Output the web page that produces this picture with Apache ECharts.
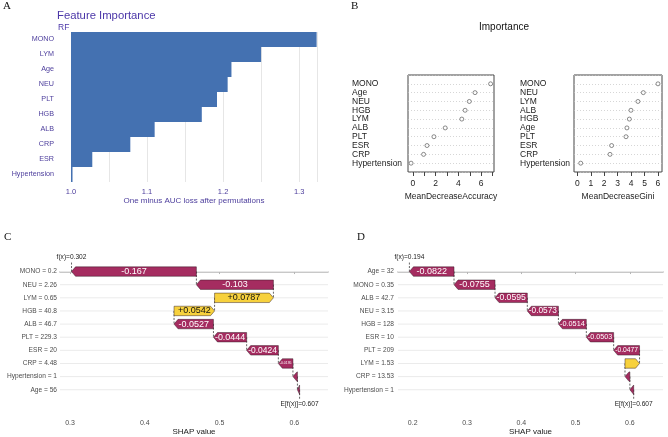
<!DOCTYPE html>
<html>
<head>
<meta charset="utf-8">
<script src="https://cdn.jsdelivr.net/npm/echarts@6/dist/echarts.min.js"></script>
<style>
  html, body { margin: 0; padding: 0; background: #fff; }
  #main { width: 668px; height: 437px; }
</style>
</head>
<body>
<div id="main"></div>
<script>
// A: permutation importance (RF), one minus AUC loss
var rfFeatures = ['MONO', 'LYM', 'Age', 'NEU', 'PLT', 'HGB', 'ALB', 'CRP', 'ESR', 'Hypertension'];
var rfValues = [1.323, 1.250, 1.211, 1.206, 1.192, 1.172, 1.110, 1.078, 1.028, 1.002];

// B: randomForest importance
var accFeatures = ['MONO', 'Age', 'NEU', 'HGB', 'LYM', 'ALB', 'PLT', 'ESR', 'CRP', 'Hypertension'];
var accValues = [6.83, 5.46, 4.96, 4.59, 4.30, 2.84, 1.85, 1.24, 0.94, -0.16];
var giniFeatures = ['MONO', 'NEU', 'LYM', 'ALB', 'HGB', 'Age', 'PLT', 'ESR', 'CRP', 'Hypertension'];
var giniValues = [6.00, 4.91, 4.51, 3.99, 3.87, 3.69, 3.62, 2.55, 2.43, 0.25];
var accTicks = [0, 1, 2, 3, 4, 5, 6, 7];
var accLabels = [0, 2, 4, 6];
var giniTicks = [0, 1, 2, 3, 4, 5, 6];

// C, D: SHAP waterfall (top row first)
var baseValue = 0.607;
var cFeatures = ['MONO = 0.2', 'NEU = 2.26', 'LYM = 0.65', 'HGB = 40.8', 'ALB = 46.7',
  'PLT = 229.3', 'ESR = 20', 'CRP = 4.48', 'Hypertension = 1', 'Age = 56'];
var cShap = [-0.167, -0.103, 0.0787, 0.0542, -0.0527, -0.0444, -0.0424, -0.0195, -0.006, -0.0029];
var cTicks = [0.3, 0.4, 0.5, 0.6];
var dFeatures = ['Age = 32', 'MONO = 0.35', 'ALB = 42.7', 'NEU = 3.15', 'HGB = 128',
  'ESR = 10', 'PLT = 209', 'LYM = 1.53', 'CRP = 13.53', 'Hypertension = 1'];
var dShap = [-0.0822, -0.0755, -0.0595, -0.0573, -0.0514, -0.0503, -0.0477, 0.0268, -0.009, -0.007];
var dTicks = [0.2, 0.3, 0.4, 0.5, 0.6];

var FONT = 'Liberation Sans, Arial, sans-serif';
var POS = '#f7d13d', NEG = '#a52c60';

// 累加得到每一行的起止位置（从底部 E[f(x)] 开始往上）
function waterfallRows(shap, base) {
  var rows = [];
  var cur = base;
  for (var i = shap.length - 1; i >= 0; i--) {
    rows[i] = [i, cur, cur + shap[i], shap[i]];
    cur = cur + shap[i];
  }
  return { rows: rows, fx: cur };
}
var cW = waterfallRows(cShap, baseValue);
var dW = waterfallRows(dShap, baseValue);

function emWidth(s) {
  var w = 0;
  for (var k = 0; k < s.length; k++) {
    var ch = s[k];
    if (ch === '.') w += 0.278;
    else if (ch === '-') w += 0.333;
    else if (ch === '+') w += 0.584;
    else w += 0.556;
  }
  return w;
}

function makeWaterfallRender(n, fx) {
  return function (params, api) {
    var row = api.value(0), s = api.value(1), e = api.value(2), v = api.value(3);
    var p0 = api.coord([s, row]);
    var p1 = api.coord([e, row]);
    var band = Math.abs(api.coord([s, row + 1])[1] - p0[1]);
    var h = band * 0.72;
    var y = p0[1];
    var dir = p1[0] >= p0[0] ? 1 : -1;
    var len = Math.abs(p1[0] - p0[0]);
    var head = Math.min(4, len);
    var neck = p1[0] - dir * head;
    var children = [];
    var dash = { stroke: '#222', lineWidth: 0.7, lineDash: [2, 1.5] };
    // 连接线
    if (row < n - 1) {
      var yn = api.coord([s, row + 1])[1];
      children.push({ type: 'line', z2: 0, shape: { x1: p0[0], y1: y, x2: p0[0], y2: yn }, style: dash });
    } else {
      var yb = api.coord([s, row + 0.78])[1];
      children.push({ type: 'line', z2: 0, shape: { x1: p0[0], y1: y, x2: p0[0], y2: yb }, style: dash });
      var yt = api.coord([s, row + 1.08])[1];
      children.push({ type: 'text', z2: 3, x: p0[0], y: yt, style: {
        text: 'E[f(x)]=' + baseValue.toFixed(3), fill: '#222', font: '6.6px ' + FONT,
        align: 'center', verticalAlign: 'middle', textAlign: 'center', textVerticalAlign: 'middle' } });
    }
    if (row === 0) {
      var ya = api.coord([e, row - 0.8])[1];
      children.push({ type: 'line', z2: 0, shape: { x1: p1[0], y1: y, x2: p1[0], y2: ya }, style: dash });
      var yl = api.coord([e, row - 1.09])[1];
      children.push({ type: 'text', z2: 3, x: p1[0], y: yl, style: {
        text: 'f(x)=' + fx.toFixed(3), fill: '#222', font: '6.6px ' + FONT,
        align: 'center', verticalAlign: 'middle', textAlign: 'center', textVerticalAlign: 'middle' } });
    }
    children.push({
      type: 'polygon', z2: 1,
      shape: { points: [[p0[0], y - h / 2], [neck, y - h / 2], [p1[0], y], [neck, y + h / 2], [p0[0], y + h / 2]] },
      style: { fill: v > 0 ? POS : NEG, stroke: 'rgba(40,20,30,0.75)', lineWidth: 0.6 }
    });
    var txt = (v > 0 ? '+' : '') + String(Number(v.toPrecision(3)));
    var fs = Math.min(9, (len - 3) / emWidth(txt), h);
    if (fs >= 3.3) {
      children.push({ type: 'text', z2: 2, x: (p0[0] + p1[0]) / 2, y: y, style: {
        text: txt, fill: v > 0 ? '#111' : '#fff', font: fs.toFixed(2) + 'px ' + FONT,
        align: 'center', verticalAlign: 'middle', textAlign: 'center', textVerticalAlign: 'middle' } });
    }
    return { type: 'group', children: children };
  };
}

function gridLineRender(params, api) {
  var cs = params.coordSys;
  var y = api.coord([0, api.value(0)])[1];
  return { type: 'line', shape: { x1: cs.x, y1: y, x2: cs.x + cs.width, y2: y },
    style: { stroke: '#ebebeb', lineWidth: 1 } };
}

var rowIdx = [0, 1, 2, 3, 4, 5, 6, 7, 8, 9];

var purple = '#4c3d9c';
var bAxisFont = { fontSize: 8.5, color: '#222', fontFamily: FONT };

var option = {
  animation: false,
  textStyle: { fontFamily: FONT },
  graphic: [
    { type: 'text', left: 3, top: 1, style: { text: 'A', font: '11px Liberation Serif, serif', fill: '#111' } },
    { type: 'text', left: 351, top: 1, style: { text: 'B', font: '11px Liberation Serif, serif', fill: '#111' } },
    { type: 'text', left: 4, top: 232, style: { text: 'C', font: '11px Liberation Serif, serif', fill: '#111' } },
    { type: 'text', left: 357, top: 232, style: { text: 'D', font: '11px Liberation Serif, serif', fill: '#111' } },
    { type: 'text', left: 57, top: 10, style: { text: 'Feature Importance', font: '11.3px ' + FONT, fill: '#4b36a8' } },
    { type: 'text', left: 58, top: 23, style: { text: 'RF', font: '8.5px ' + FONT, fill: '#4b36a8' } },
    { type: 'text', left: 479, top: 22, style: { text: 'Importance', font: '10px ' + FONT, fill: '#111' } }
  ],
  grid: [
    { left: 71, top: 32, width: 246, height: 150 },
    { left: 408, top: 75, width: 86, height: 97, show: true, borderColor: '#444', borderWidth: 1 },
    { left: 574, top: 75, width: 88, height: 97, show: true, borderColor: '#444', borderWidth: 1 },
    { left: 60, top: 245.3, width: 268, height: 171.6 },
    { left: 398, top: 245.3, width: 265, height: 171.6 }
  ],
  xAxis: [
    {
      gridIndex: 0, type: 'value', min: 1.0, max: 1.3235, interval: 0.05,
      axisLine: { show: false }, axisTick: { show: false },
      splitLine: { lineStyle: { color: '#e6e6e6', width: 1 } },
      axisLabel: {
        fontSize: 7.5, color: purple, margin: 6,
        formatter: function (v) { return Math.round(v * 100) % 10 === 0 ? v.toFixed(1) : ''; }
      },
      name: 'One minus AUC loss after permutations', nameLocation: 'middle', nameGap: 15,
      nameTextStyle: { fontSize: 8, color: purple }
    },
    {
      gridIndex: 1, type: 'value', min: -0.43, max: 7.13,
      axisLine: { show: false }, splitLine: { show: false },
      axisTick: { show: true, length: 4, customValues: accTicks, lineStyle: { color: '#444' } },
      axisLabel: Object.assign({ margin: 7, customValues: accLabels, formatter: function (v) { return String(v); } }, bAxisFont),
      name: 'MeanDecreaseAccuracy', nameLocation: 'middle', nameGap: 20, nameTextStyle: bAxisFont
    },
    {
      gridIndex: 2, type: 'value', min: -0.25, max: 6.3,
      axisLine: { show: false }, splitLine: { show: false },
      axisTick: { show: true, length: 4, customValues: giniTicks, lineStyle: { color: '#444' } },
      axisLabel: Object.assign({ margin: 7, customValues: giniTicks, formatter: function (v) { return String(v); } }, bAxisFont),
      name: 'MeanDecreaseGini', nameLocation: 'middle', nameGap: 20, nameTextStyle: bAxisFont
    },
    {
      gridIndex: 3, type: 'value', min: 0.2866, max: 0.645,
      axisLine: { lineStyle: { color: '#b5b5b5', width: 1.6 } },
      axisTick: { show: true, length: 2.5, customValues: cTicks, lineStyle: { color: '#b5b5b5' } },
      splitLine: { show: false },
      axisLabel: { fontSize: 7, color: '#4d4d4d', margin: 4, customValues: cTicks, formatter: function (v) { return v.toFixed(1); } },
      name: 'SHAP value', nameLocation: 'middle', nameGap: 12, nameTextStyle: { fontSize: 8, color: '#1a1a1a' }
    },
    {
      gridIndex: 4, type: 'value', min: 0.1729, max: 0.661,
      axisLine: { lineStyle: { color: '#b5b5b5', width: 1.6 } },
      axisTick: { show: true, length: 2.5, customValues: dTicks, lineStyle: { color: '#b5b5b5' } },
      splitLine: { show: false },
      axisLabel: { fontSize: 7, color: '#4d4d4d', margin: 4, customValues: dTicks, formatter: function (v) { return v.toFixed(1); } },
      name: 'SHAP value', nameLocation: 'middle', nameGap: 12, nameTextStyle: { fontSize: 8, color: '#1a1a1a' }
    }
  ],
  yAxis: [
    {
      gridIndex: 0, type: 'category', data: rfFeatures, inverse: true,
      axisLine: { show: false }, axisTick: { show: false },
      axisLabel: { fontSize: 7.2, color: purple, margin: 17 }
    },
    {
      gridIndex: 1, type: 'value', min: 0, max: 11, interval: 1,
      axisLine: { show: false }, axisTick: { show: false },
      splitLine: { lineStyle: { color: '#c4c4c4', type: [1, 2], width: 0.7 } },
      axisLabel: Object.assign({ align: 'left', margin: 56, lineHeight: 9,
        formatter: function (v) { return accFeatures[10 - v] || ''; } }, bAxisFont)
    },
    {
      gridIndex: 2, type: 'value', min: 0, max: 11, interval: 1,
      axisLine: { show: false }, axisTick: { show: false },
      splitLine: { lineStyle: { color: '#c4c4c4', type: [1, 2], width: 0.7 } },
      axisLabel: Object.assign({ align: 'left', margin: 54, lineHeight: 9,
        formatter: function (v) { return giniFeatures[10 - v] || ''; } }, bAxisFont)
    },
    {
      gridIndex: 3, type: 'value', min: -2, max: 11, interval: 1, inverse: true,
      axisLine: { show: false }, axisTick: { show: false }, splitLine: { show: false },
      axisLabel: { fontSize: 6.6, color: '#4d4d4d', margin: 3,
        formatter: function (v) { return cFeatures[v] || ''; } }
    },
    {
      gridIndex: 4, type: 'value', min: -2, max: 11, interval: 1, inverse: true,
      axisLine: { show: false }, axisTick: { show: false }, splitLine: { show: false },
      axisLabel: { fontSize: 6.6, color: '#4d4d4d', margin: 4,
        formatter: function (v) { return dFeatures[v] || ''; } }
    }
  ],
  series: [
    {
      type: 'bar', xAxisIndex: 0, yAxisIndex: 0, data: rfValues,
      barCategoryGap: '0%', clip: true,
      itemStyle: { color: '#4471b1' }
    },
    {
      type: 'scatter', xAxisIndex: 1, yAxisIndex: 1,
      data: accValues.map(function (v, i) { return [v, 10 - i]; }),
      symbol: 'circle', symbolSize: 4,
      itemStyle: { color: '#fff', borderColor: '#333', borderWidth: 0.7 }
    },
    {
      type: 'scatter', xAxisIndex: 2, yAxisIndex: 2,
      data: giniValues.map(function (v, i) { return [v, 10 - i]; }),
      symbol: 'circle', symbolSize: 4,
      itemStyle: { color: '#fff', borderColor: '#333', borderWidth: 0.7 }
    },
    {
      type: 'custom', xAxisIndex: 3, yAxisIndex: 3, z: 1,
      data: rowIdx.map(function (r) { return [r]; }),
      encode: { y: 0 }, renderItem: gridLineRender, silent: true
    },
    {
      type: 'custom', xAxisIndex: 4, yAxisIndex: 4, z: 1,
      data: rowIdx.map(function (r) { return [r]; }),
      encode: { y: 0 }, renderItem: gridLineRender, silent: true
    },
    {
      type: 'custom', xAxisIndex: 3, yAxisIndex: 3, z: 3,
      data: cW.rows, encode: { x: [1, 2], y: 0 },
      renderItem: makeWaterfallRender(cShap.length, cW.fx), clip: false
    },
    {
      type: 'custom', xAxisIndex: 4, yAxisIndex: 4, z: 3,
      data: dW.rows, encode: { x: [1, 2], y: 0 },
      renderItem: makeWaterfallRender(dShap.length, dW.fx), clip: false
    }
  ]
};

var myChart = echarts.init(document.getElementById('main'));
myChart.setOption(option);
</script>
</body>
</html>
